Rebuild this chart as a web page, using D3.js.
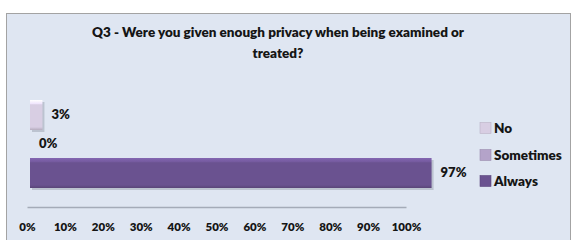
<!DOCTYPE html>
<html>
<head>
<meta charset="utf-8">
<script src="https://cdn.jsdelivr.net/npm/d3@7"></script>
<style>
  body { margin: 0; background: #fff; }
  svg text { font-family: Lato, "Open Sans", sans-serif; font-weight: 800; fill: #151515; }
</style>
</head>
<body>
<svg id="chart" width="572" height="240"></svg>
<script>
var titleLines = ["Q3 - Were you given enough privacy when being examined or", "treated?"];
var categories = ["No", "Sometimes", "Always"];
var values = [0.03, 0.0, 0.97];
var tickValues = [0, 0.1, 0.2, 0.3, 0.4, 0.5, 0.6, 0.7, 0.8, 0.9, 1.0];
var colors = ["#d8cee3", "#b4a3c9", "#6a5290"];

var svg = d3.select("#chart");

// panel
svg.append("rect")
    .attr("x", 6.5).attr("y", 13.5)
    .attr("width", 564).attr("height", 240)
    .attr("fill", "#dfe6f2")
    .attr("stroke", "#a3a3a3");

svg.selectAll(".title")
    .data(titleLines)
  .enter().append("text")
    .attr("class", "title")
    .attr("x", 278)
    .attr("y", function(d, i) { return 37 + i * 21; })
    .attr("text-anchor", "middle")
    .style("font-size", "13.5px")
    .text(function(d) { return d; });

// axis scale (front floor) and bar scale (back plane of the 3d bars)
var x = d3.scaleLinear().domain([0, 1]).range([27, 406]);
var xBar = d3.scaleLinear().domain([0, 1]).range([30, 444]);
var y = d3.scaleBand().domain(categories).range([100, 187]).paddingInner(0);

var defs = svg.append("defs");
colors.forEach(function(c, i) {
  var g = defs.append("linearGradient")
      .attr("id", "grad" + i)
      .attr("x1", 0).attr("y1", 0).attr("x2", 0).attr("y2", 1);
  g.append("stop").attr("offset", "0%").attr("stop-color", d3.color(c).brighter(0.6));
  g.append("stop").attr("offset", "12%").attr("stop-color", d3.color(c).brighter(0.3));
  g.append("stop").attr("offset", "16%").attr("stop-color", c);
  g.append("stop").attr("offset", "90%").attr("stop-color", c);
  g.append("stop").attr("offset", "100%").attr("stop-color", d3.color(c).darker(0.5));
});

var xAxis = svg.append("g")
    .attr("transform", "translate(0,207)")
    .call(d3.axisBottom(x).tickValues(tickValues).tickSize(0).tickFormat(d3.format(".0%")));
xAxis.select(".domain").attr("stroke", "#a4abb8").attr("stroke-width", 1.5);
xAxis.selectAll("text")
    .attr("y", 16)
    .style("font-size", "11.5px");

// bar shadows
svg.selectAll(".shadow")
    .data(values)
  .enter().append("rect")
    .attr("x", xBar(0) + 2)
    .attr("y", function(d, i) { return y(categories[i]) + 2; })
    .attr("width", function(d) { return d > 0 ? xBar(d) - xBar(0) : 0; })
    .attr("height", y.bandwidth() + 1)
    .attr("fill", "#9aa0ad")
    .attr("opacity", 0.5);

svg.selectAll(".bar")
    .data(values)
  .enter().append("rect")
    .attr("class", "bar")
    .attr("x", xBar(0))
    .attr("y", function(d, i) { return y(categories[i]); })
    .attr("width", function(d) { return xBar(d) - xBar(0); })
    .attr("height", y.bandwidth() + 1)
    .attr("fill", function(d, i) { return "url(#grad" + i + ")"; });

svg.selectAll(".val")
    .data(values)
  .enter().append("text")
    .attr("x", function(d) { return xBar(d) + 9; })
    .attr("y", function(d, i) { return y(categories[i]) + y.bandwidth() / 2 + 4.5; })
    .style("font-size", "13px")
    .text(function(d) { return d3.format(".0%")(d); });

// legend
var legend = svg.selectAll(".legend")
    .data(categories)
  .enter().append("g")
    .attr("transform", function(d, i) { return "translate(480," + [128, 155, 181][i] + ")"; });

legend.append("rect")
    .attr("x", 0).attr("y", -5.5)
    .attr("width", 11).attr("height", 11)
    .attr("fill", function(d, i) { return colors[i]; })
    .attr("stroke", function(d, i) { return d3.color(colors[i]).darker(0.4); })
    .attr("stroke-width", 0.6);

legend.append("text")
    .attr("x", 14)
    .attr("y", 5)
    .style("font-size", "13.5px")
    .text(function(d) { return d; });
</script>
</body>
</html>
